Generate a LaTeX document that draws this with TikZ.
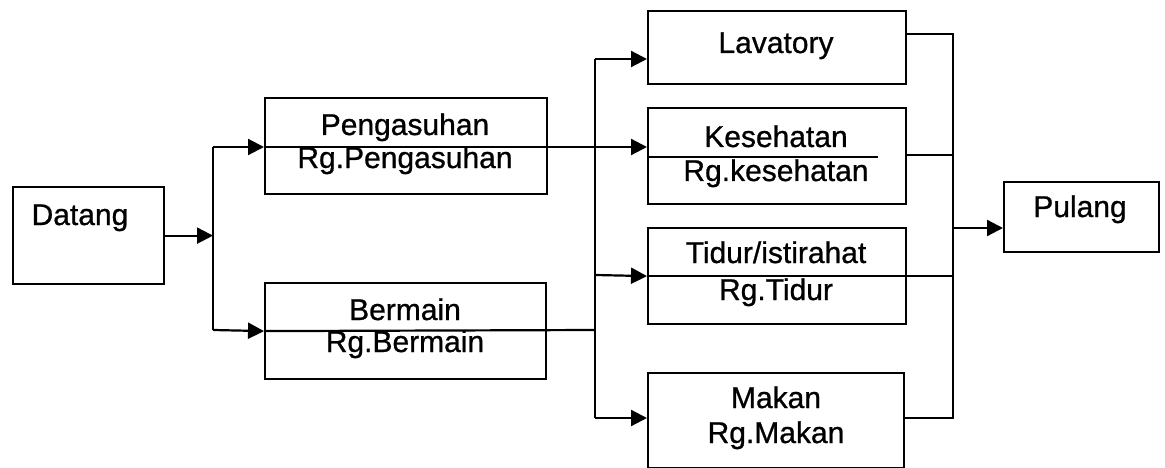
\documentclass[tikz,border=0pt]{standalone}
\usepackage{fontspec}
\setmainfont{Liberation Sans}[FakeBold=0.8]
\usetikzlibrary{arrows.meta}
\begin{document}
\begin{tikzpicture}[x=1pt,y=-1pt,
  box/.style={draw,line width=2.2pt,rectangle,inner sep=0pt,anchor=north west},
  lbl/.style={anchor=base,inner sep=0pt,font=\fontsize{30}{34}\selectfont},
  ln/.style={line width=2.2pt},
  arr/.style={line width=2.2pt,-{Triangle[length=16pt,width=16pt]}}]
\useasboundingbox (0,0) rectangle (1165,468);
% boxes
\node[box,minimum width=151pt,minimum height=97pt] (datang) at (12,186) {};
\node[box,minimum width=282pt,minimum height=96pt] (peng) at (264,97) {};
\node[box,minimum width=281pt,minimum height=96pt] (berm) at (264,282) {};
\node[box,minimum width=258pt,minimum height=73pt] (lav) at (647,10) {};
\node[box,minimum width=258pt,minimum height=96pt] (kes) at (647,107) {};
\node[box,minimum width=258pt,minimum height=96pt] (tid) at (647,227) {};
\node[box,minimum width=256pt,minimum height=95pt] (mak) at (647,372) {};
\node[box,minimum width=155pt,minimum height=70pt] (pul) at (1003,181) {};
% labels
\node[lbl] (datang-t) at (80,225) {Datang};
\node[lbl] (peng-t1) at (405,135) {Pengasuhan};
\node[lbl] (peng-t2) at (405,168) {Rg.Pengasuhan};
\node[lbl] (berm-t1) at (405,320) {Bermain};
\node[lbl] (berm-t2) at (405,352) {Rg.Bermain};
\node[lbl] (lav-t) at (776,53) {Lavatory};
\node[lbl] (kes-t1) at (776,147) {Kesehatan};
\node[lbl] (kes-t2) at (776,181) {Rg.kesehatan};
\node[lbl] (tid-t1) at (776,263) {Tidur/istirahat};
\node[lbl] (tid-t2) at (776,300) {Rg.Tidur};
\node[lbl] (mak-t1) at (776,408) {Makan};
\node[lbl] (mak-t2) at (776,443) {Rg.Makan};
\node[lbl] (pul-t) at (1080,217) {Pulang};
% junction coordinates
\coordinate (a1) at (213,147);
\coordinate (a2) at (213,330);
\coordinate (b1) at (595,59);
\coordinate (bp) at (595,147);
\coordinate (bt) at (595,275);
\coordinate (bb) at (595,330);
\coordinate (b2) at (595,418);
\coordinate (c1) at (953,34);
\coordinate (ck) at (953,155);
\coordinate (cm) at (953,228);
\coordinate (c2) at (953,418);
\coordinate (ks1) at (647,157);
\coordinate (ks2) at (878,157);
% connectors
\draw[arr] (datang.east) -- (datang.east -| a1);
\draw[ln] (a1) -- (a2);
\draw[arr] (a1) -- (a1 -| peng.west);
\draw[arr] (a2) -- (berm.west);
\draw[ln] (a1 -| peng.west) -- (bp);
\draw[ln] (berm.west) -- (bb);
\draw[ln] (b1) -- (b2);
\draw[arr] (b1) -- (b1 -| lav.west);
\draw[arr] (bp) -- (bp -| kes.west);
\draw[arr] (bt) -- (tid.west);
\draw[arr] (b2) -- (b2 -| mak.west);
\draw[ln] (ks1) -- (ks2);
\draw[ln] (tid.west) -- (tid.west -| c1);
\draw[ln] (c1 -| lav.east) -- (c1) -- (c2) -- (c2 -| mak.east);
\draw[ln] (ck -| kes.east) -- (ck);
\draw[arr] (cm) -- (cm -| pul.west);
\end{tikzpicture}
\end{document}
